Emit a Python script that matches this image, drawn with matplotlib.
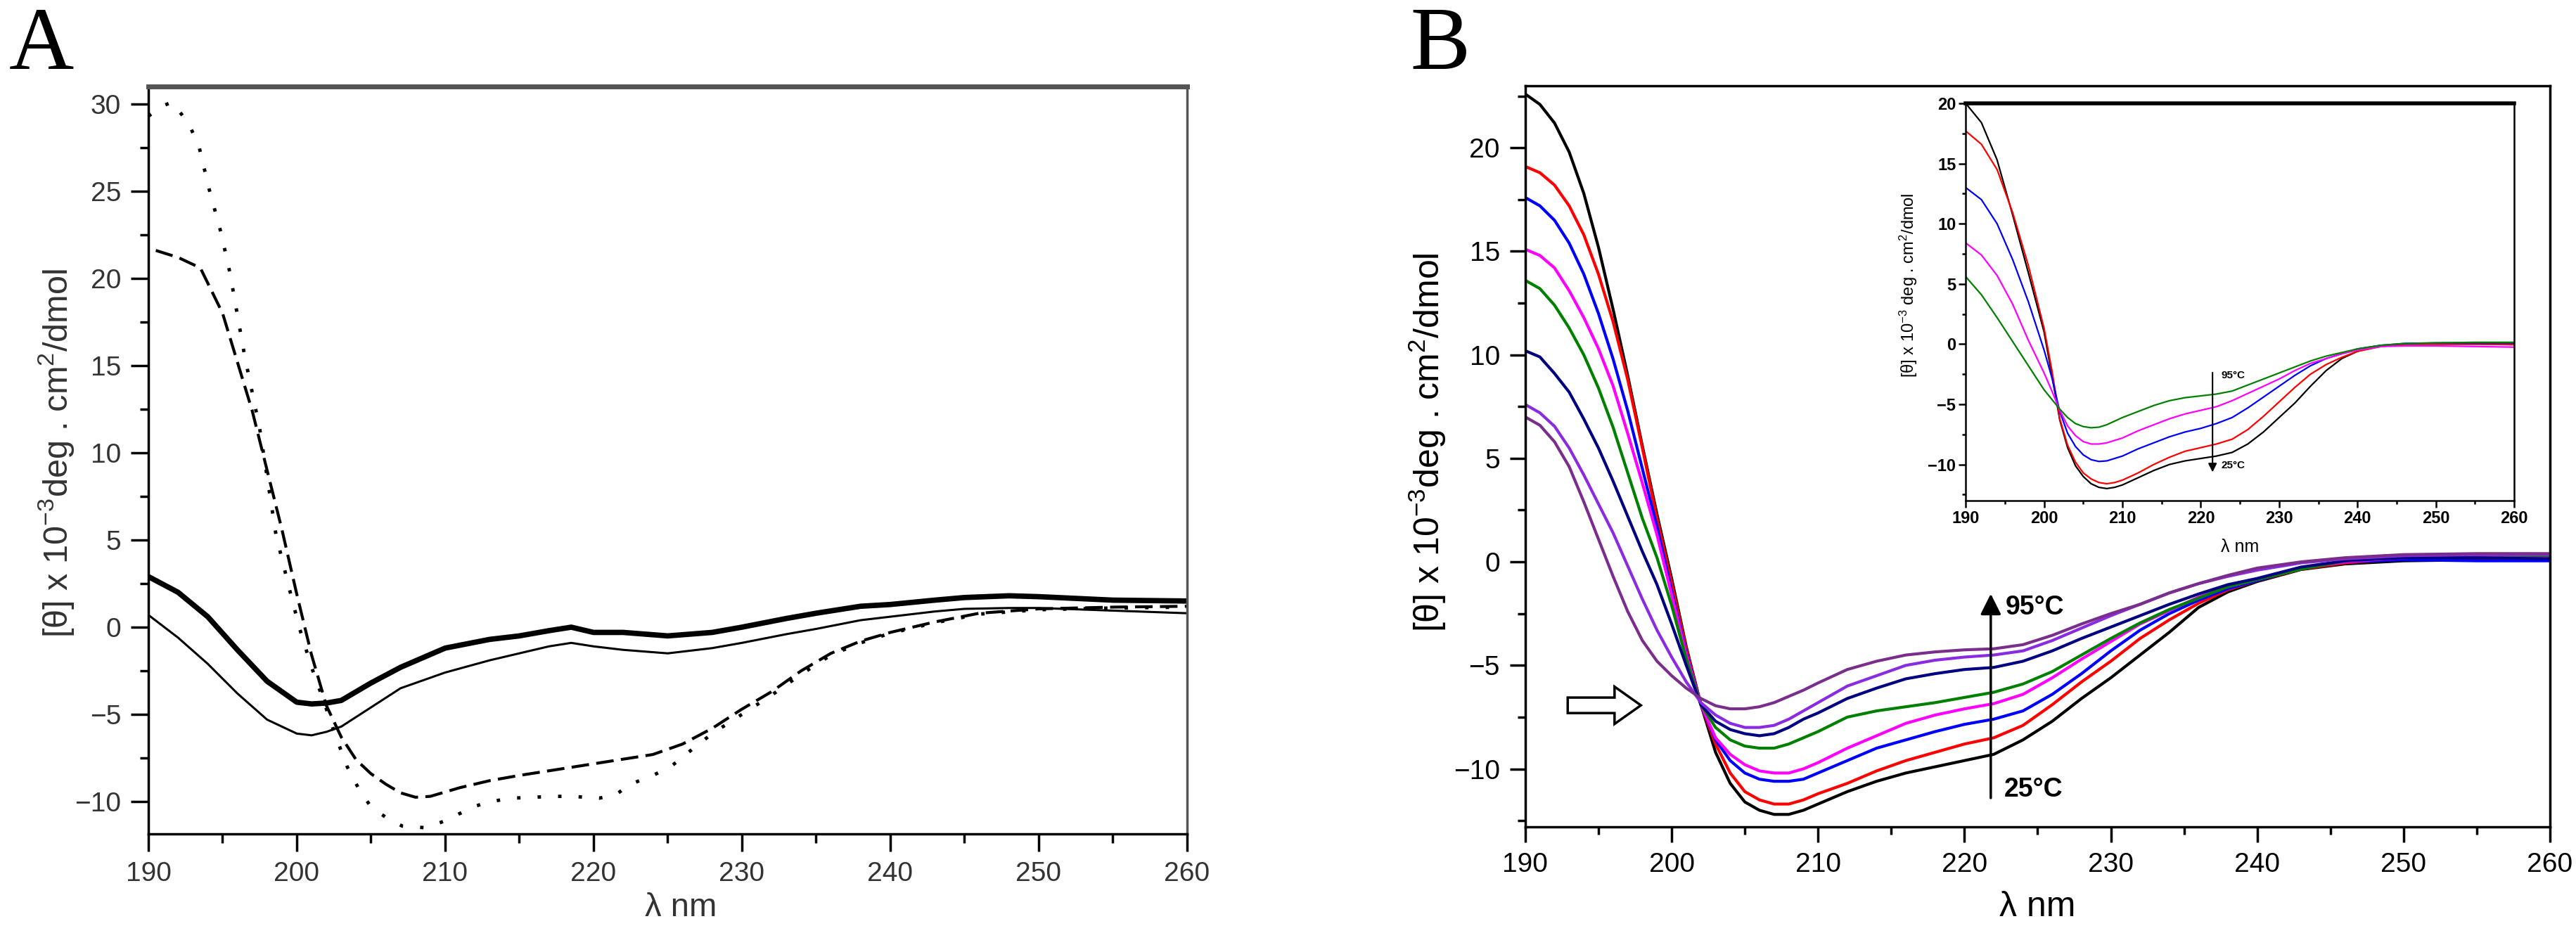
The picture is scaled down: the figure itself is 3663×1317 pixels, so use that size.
import matplotlib
matplotlib.use('Agg')
import matplotlib.pyplot as plt
from matplotlib.ticker import MultipleLocator
from matplotlib.patches import FancyArrow

# ---- panel A : four CD spectra ----
a_wl = [190, 192, 194, 196, 198, 200, 201, 202, 203, 205, 207, 210, 213, 215, 217, 218.5,
        220, 222, 225, 228, 230, 233, 235, 238, 240, 243, 245, 248, 250, 255, 260]
a_thick = [2.9, 2.0, 0.6, -1.3, -3.1, -4.3, -4.4, -4.35, -4.2, -3.2, -2.3, -1.2, -0.7, -0.5, -0.2, 0.0,
           -0.3, -0.3, -0.5, -0.3, 0.0, 0.5, 0.8, 1.2, 1.3, 1.55, 1.7, 1.8, 1.75, 1.55, 1.5]
a_thin = [0.7, -0.6, -2.1, -3.8, -5.3, -6.1, -6.2, -6.0, -5.7, -4.6, -3.5, -2.6, -1.9, -1.5, -1.1, -0.9,
          -1.1, -1.3, -1.5, -1.2, -0.9, -0.4, -0.1, 0.4, 0.6, 0.9, 1.05, 1.1, 1.1, 0.95, 0.8]

dash_wl = [190.5, 192, 193.5, 195, 196, 197, 198, 199, 200, 201,
           202, 203, 204, 205, 206, 207, 208, 209, 211, 213,
           215, 218, 221, 224, 226, 228, 230, 232, 234, 236,
           238, 240, 243, 246, 250, 255, 260]
dash_val = [21.6, 21.2, 20.6, 18.0, 15.2, 12.4, 9.0, 5.6, 1.9, -1.6,
            -4.5, -6.3, -7.6, -8.4, -9.0, -9.5, -9.75, -9.7, -9.2, -8.8,
            -8.5, -8.1, -7.7, -7.3, -6.7, -5.8, -4.7, -3.7, -2.5, -1.5,
            -0.8, -0.3, 0.3, 0.8, 1.05, 1.15, 1.2]

dot_wl = [190, 191, 191.6, 192.7, 193.4, 194.1, 194.9, 195.5, 196.5, 197.5,
          198.6, 199.5, 200.2, 201, 201.8, 202.6, 203.4, 204.2, 205, 206,
          207.1, 208.7, 210, 211.9, 213, 214.6, 216, 217.2, 218.5, 220.4,
          221.5, 222.5, 224, 225.2, 226.8, 228, 230, 232, 234, 236,
          238, 240, 243, 246, 250, 255, 260]
dot_val = [29.3, 29.9, 30.1, 28.9, 27.6, 25.1, 22.6, 20.3, 15.5, 11.4,
           5.3, 2.2, -0.1, -2.3, -4.2, -6.2, -8.0, -9.3, -10.3, -10.9,
           -11.4, -11.5, -11.1, -10.3, -10.0, -9.8, -9.75, -9.7, -9.7, -9.8,
           -9.6, -9.0, -8.5, -8.0, -6.9, -6.1, -5.0, -3.9, -2.7, -1.6,
           -0.9, -0.35, 0.25, 0.75, 1.0, 1.1, 1.15]

# ---- panel B : thermal series 25 -> 95 C ----
b_wl = [190, 191, 192, 193, 194, 195, 196, 197, 198, 199,
        200, 201, 202, 203, 204, 205, 206, 207, 208, 209,
        210, 212, 214, 216, 218, 220, 222, 224, 226, 228,
        230, 232, 234, 236, 238, 240, 243, 246, 250, 255, 260]
b_black = [22.6, 22.1, 21.2, 19.8, 17.8, 15.2, 12.2, 9.0, 5.6, 2.3,
           -0.8, -4.1, -6.9, -9.2, -10.7, -11.6, -12.0, -12.2, -12.2, -12.0,
           -11.7, -11.1, -10.6, -10.2, -9.9, -9.6, -9.3, -8.6, -7.7, -6.6,
           -5.6, -4.5, -3.4, -2.2, -1.45, -0.95, -0.37, -0.1, 0.05, 0.1, 0.1]
b_red = [19.1, 18.8, 18.2, 17.2, 15.8, 13.9, 11.6, 8.8, 5.5, 2.1,
         -1.0, -4.2, -6.9, -8.8, -10.2, -11.1, -11.5, -11.7, -11.7, -11.5,
         -11.2, -10.7, -10.1, -9.6, -9.2, -8.8, -8.5, -7.9, -6.9, -5.8,
         -4.8, -3.7, -2.8, -2.0, -1.35, -0.9, -0.35, -0.05, 0.15, 0.2, 0.15]
b_blue = [17.6, 17.2, 16.5, 15.4, 13.9, 12.0, 9.8, 7.3, 4.5, 1.7,
          -1.4, -4.4, -6.9, -8.6, -9.6, -10.2, -10.5, -10.6, -10.6, -10.5,
          -10.2, -9.6, -9.0, -8.6, -8.2, -7.85, -7.6, -7.2, -6.4, -5.4,
          -4.3, -3.3, -2.5, -1.85, -1.3, -0.9, -0.3, 0.0, 0.1, 0.05, 0.05]
b_magenta = [15.1, 14.8, 14.2, 13.1, 11.8, 10.3, 8.5, 6.2, 3.8, 1.3,
             -1.6, -4.5, -6.9, -8.5, -9.3, -9.8, -10.1, -10.2, -10.2, -10.0,
             -9.7, -9.0, -8.4, -7.8, -7.4, -7.1, -6.85, -6.4, -5.6, -4.7,
             -3.85, -3.0, -2.35, -1.7, -1.2, -0.85, -0.3, 0.0, 0.2, 0.3, 0.25]
b_green = [13.6, 13.2, 12.4, 11.3, 10.0, 8.4, 6.5, 4.3, 2.1, 0.2,
           -2.1, -4.7, -6.9, -8.0, -8.6, -8.9, -9.0, -9.0, -8.8, -8.5,
           -8.2, -7.5, -7.2, -7.0, -6.8, -6.55, -6.3, -5.9, -5.3, -4.5,
           -3.7, -2.95, -2.3, -1.75, -1.2, -0.85, -0.35, 0.05, 0.3, 0.35, 0.3]
b_navy = [10.2, 9.9, 9.1, 8.2, 6.9, 5.5, 3.9, 2.2, 0.5, -1.1,
          -3.0, -5.0, -6.9, -7.7, -8.1, -8.3, -8.4, -8.3, -8.0, -7.6,
          -7.3, -6.6, -6.1, -5.65, -5.4, -5.2, -5.1, -4.8, -4.3, -3.7,
          -3.15, -2.6, -2.05, -1.55, -1.1, -0.8, -0.25, 0.05, 0.2, 0.2, 0.15]
b_violet = [7.6, 7.2, 6.55, 5.5, 4.2, 2.8, 1.4, -0.2, -1.8, -3.3,
            -4.6, -5.8, -6.8, -7.4, -7.8, -8.0, -8.0, -7.9, -7.6, -7.2,
            -6.8, -6.0, -5.5, -5.0, -4.75, -4.6, -4.5, -4.3, -3.8, -3.2,
            -2.6, -2.05, -1.5, -1.05, -0.7, -0.4, -0.05, 0.15, 0.3, 0.35, 0.35]
b_purple = [7.0, 6.6, 5.8, 4.6, 2.9, 1.1, -0.7, -2.4, -3.8, -4.8,
            -5.5, -6.1, -6.6, -6.95, -7.1, -7.1, -7.0, -6.8, -6.5, -6.2,
            -5.85, -5.2, -4.8, -4.5, -4.35, -4.25, -4.2, -4.0, -3.55, -3.0,
            -2.5, -2.05, -1.5, -1.05, -0.65, -0.3, 0.0, 0.2, 0.35, 0.4, 0.4]
b_series = [b_black, b_red, b_blue, b_magenta, b_green, b_navy, b_violet, b_purple]
b_colors = ['#000000', '#ff0000', '#0000ff', '#ff00ff', '#008000', '#000080', '#8a2be2', '#7b2d8b']

# ---- inset of panel B ----
in_wl = [190, 192, 194, 196, 198, 200, 201, 202, 203, 204,
         205, 206, 207, 208, 209, 210, 212, 214, 216, 218,
         220, 222, 224, 226, 228, 230, 232, 234, 236, 238,
         240, 243, 246, 250, 255, 260]
in_black = [20.0, 18.4, 15.3, 10.7, 5.9, 1.0, -2.6, -6.3, -8.6, -10.1,
            -11.0, -11.6, -11.9, -12.0, -11.9, -11.7, -11.1, -10.5, -10.0, -9.7,
            -9.5, -9.3, -9.0, -8.3, -7.3, -6.1, -4.9, -3.5, -2.2, -1.2,
            -0.6, -0.15, 0.0, 0.0, 0.0, 0.0]
in_red = [17.7, 16.6, 14.5, 10.9, 6.5, 1.3, -2.2, -6.2, -8.4, -9.8,
          -10.7, -11.2, -11.5, -11.6, -11.5, -11.3, -10.7, -10.0, -9.4, -8.9,
          -8.6, -8.3, -7.9, -7.1, -6.0, -4.8, -3.6, -2.5, -1.7, -1.1,
          -0.6, -0.2, 0.0, 0.0, 0.0, -0.05]
in_blue = [13.0, 12.0, 10.0, 7.0, 3.5, -0.5, -2.8, -5.6, -7.4, -8.5,
           -9.2, -9.6, -9.75, -9.7, -9.5, -9.3, -8.7, -8.2, -7.7, -7.3,
           -7.0, -6.6, -6.1, -5.3, -4.4, -3.5, -2.6, -1.8, -1.2, -0.8,
           -0.4, -0.1, 0.05, 0.1, 0.1, 0.1]
in_magenta = [8.4, 7.4, 5.7, 3.3, 0.3, -2.4, -3.9, -5.5, -6.8, -7.6,
              -8.1, -8.3, -8.3, -8.2, -8.0, -7.8, -7.2, -6.7, -6.2, -5.8,
              -5.5, -5.2, -4.7, -4.1, -3.5, -2.9, -2.2, -1.6, -1.2, -0.8,
              -0.5, -0.2, -0.15, -0.15, -0.2, -0.25]
in_green = [5.6, 4.1, 2.2, 0.2, -1.8, -3.8, -4.6, -5.4, -6.1, -6.6,
            -6.85, -6.95, -6.9, -6.7, -6.4, -6.1, -5.6, -5.1, -4.7, -4.45,
            -4.3, -4.15, -3.9, -3.4, -2.9, -2.4, -1.9, -1.4, -1.0, -0.7,
            -0.4, -0.1, 0.05, 0.1, 0.15, 0.15]
in_series = [in_black, in_red, in_blue, in_magenta, in_green]
in_colors = ['#000000', '#ff0000', '#0000ff', '#ff00ff', '#008000']

ylab = r'[θ] x 10$^{-3}$deg . cm$^{2}$/dmol'
ylab_in = r'[θ] x 10$^{-3}$ deg . cm$^{2}$/dmol'


def style_axes(ax, major, minor, size, tlen, lw):
    ax.set_xlim(190, 260)
    ax.xaxis.set_major_locator(MultipleLocator(10))
    ax.xaxis.set_minor_locator(MultipleLocator(5))
    ax.yaxis.set_major_locator(MultipleLocator(major))
    ax.yaxis.set_minor_locator(MultipleLocator(minor))
    ax.tick_params(which='both', direction='out', top=False, right=False, width=lw)
    ax.tick_params(which='major', length=tlen, labelsize=size)
    ax.tick_params(which='minor', length=tlen * 0.5)
    for s in ax.spines.values():
        s.set_linewidth(lw)


def main():
    plt.rcParams['font.family'] = ['Liberation Sans', 'DejaVu Sans']
    plt.rcParams['mathtext.fontset'] = 'custom'
    plt.rcParams['mathtext.rm'] = 'Liberation Sans'
    plt.rcParams['mathtext.default'] = 'regular'

    fig = plt.figure(figsize=(36.63, 13.17), dpi=100)

    # ---------------- A ----------------
    axA = fig.add_axes([0.0576, 0.0995, 0.4032, 0.8071])
    axA.plot(a_wl, a_thick, color='black', lw=5.5)
    axA.plot(a_wl, a_thin, color='black', lw=2.2)
    axA.plot(dash_wl, dash_val, color='black', lw=3, linestyle=(0, (6, 2.5)))
    axA.plot(dot_wl, dot_val, color='black', lw=3.5, linestyle=(0, (1, 5)))
    axA.set_ylim(-11.85, 31.0)
    style_axes(axA, 5, 2.5, 28, 18, 2.5)
    axA.tick_params(which='major', pad=10, labelcolor='#333333')
    axA.spines['top'].set_linewidth(5)
    axA.spines['top'].set_color('#555555')
    axA.spines['right'].set_color('#555555')
    axA.set_xlabel('λ nm', fontsize=34, color='#333333')
    axA.set_ylabel(ylab, fontsize=35, color='#333333')
    axA.xaxis.set_label_coords(0.513, -0.078)
    axA.yaxis.set_label_coords(-0.070, 0.509)

    # ---------------- B ----------------
    axB = fig.add_axes([0.5921, 0.1071, 0.3978, 0.8003])
    for vals, c in zip(b_series, b_colors):
        axB.plot(b_wl, vals, color=c, lw=3)
    axB.set_ylim(-12.8, 23.0)
    style_axes(axB, 5, 2.5, 28, 16, 2.5)
    axB.tick_params(which='major', pad=10)
    axB.set_xlabel('λ nm', fontsize=36)
    axB.set_ylabel(ylab, fontsize=36)
    axB.xaxis.set_label_coords(0.5, -0.086)
    axB.yaxis.set_label_coords(-0.0755, 0.519)

    axB.annotate('', xy=(221.8, -1.45), xytext=(221.8, -11.5),
                 arrowprops=dict(arrowstyle='-|>', color='black', lw=2.5, mutation_scale=45))
    axB.text(222.8, -2.2, '95°C', fontsize=27, fontweight='bold', va='center', ha='left')
    axB.text(222.7, -11.0, '25°C', fontsize=27, fontweight='bold', va='center', ha='left')
    axB.add_patch(FancyArrow(192.9, -6.93, 5.0, 0, width=0.75, head_width=1.8, head_length=1.8,
                             length_includes_head=True, facecolor='white', edgecolor='black', lw=2.5))

    # ---------------- inset ----------------
    axI = fig.add_axes([0.7631, 0.4594, 0.2129, 0.4290])
    for vals, c in zip(in_series, in_colors):
        axI.plot(in_wl, vals, color=c, lw=1.6)
    axI.set_ylim(-13, 20)
    style_axes(axI, 5, 2.5, 17, 7, 1.8)
    axI.tick_params(which='major', pad=3)
    for lab in axI.get_xticklabels() + axI.get_yticklabels():
        lab.set_fontweight('bold')
    axI.spines['top'].set_linewidth(4)
    axI.set_xlabel('λ nm', fontsize=18)
    axI.set_ylabel(ylab_in, fontsize=17)
    axI.xaxis.set_label_coords(0.5, -0.095)
    axI.yaxis.set_label_coords(-0.085, 0.543)
    axI.annotate('', xy=(221.5, -10.8), xytext=(221.5, -2.2),
                 arrowprops=dict(arrowstyle='-|>', color='black', lw=1.5, mutation_scale=18))
    axI.text(222.6, -2.6, '95°C', fontsize=11, fontweight='bold', va='center', ha='left')
    axI.text(222.6, -10.1, '25°C', fontsize=11, fontweight='bold', va='center', ha='left')

    # panel letters
    fig.text(13 / 3663, 1 - 98 / 1317, 'A', fontsize=92, family='Liberation Serif', va='baseline')
    fig.text(2005 / 3663, 1 - 98 / 1317, 'B', fontsize=92, family='Liberation Serif', va='baseline')

    fig.savefig('out.png', dpi=100)


if __name__ == "__main__":
    main()
